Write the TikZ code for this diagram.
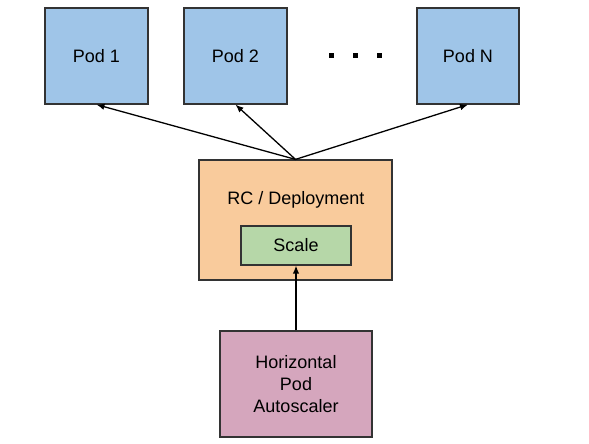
\documentclass[tikz,border=0pt]{standalone}
\usepackage{fontspec}
\setmainfont{Liberation Sans}
\usetikzlibrary{arrows.meta}
\definecolor{podblue}{HTML}{9FC5E8}
\definecolor{rcorange}{HTML}{F9CB9C}
\definecolor{scalegreen}{HTML}{B6D7A8}
\definecolor{hpapink}{HTML}{D5A6BD}
\definecolor{edgegray}{HTML}{333333}
\tikzset{
  box/.style={draw=edgegray, line width=1.2pt, inner sep=0pt, align=center,
    font=\fontsize{18}{22}\selectfont},
  podbox/.style={box, fill=podblue, minimum width=103pt, minimum height=96pt},
  dotsq/.style={fill=black, minimum size=5pt, inner sep=0pt},
  conn/.style={black, line width=1.3pt, -{Latex[length=8pt,width=6.5pt]}},
}
\begin{document}
\begin{tikzpicture}[x=1pt,y=-1pt]
\useasboundingbox (0,0) rectangle (589,444);
\node[podbox] (pod1) at (96.5,56) {Pod 1};
\node[podbox] (pod2) at (235.5,56) {Pod 2};
\node[podbox, minimum width=102pt] (podn) at (468,56) {Pod N};
\node[dotsq] (d1) at (331,56) {};
\node[dotsq] (d2) at (355,56) {};
\node[dotsq] (d3) at (379,56) {};
\node[box, fill=rcorange, minimum width=193pt, minimum height=120pt] (rc) at (295.5,220) {};
\node[font=\fontsize{18}{22}\selectfont, inner sep=0pt] (rclabel) at (296,200) {RC / Deployment};
\node[box, fill=scalegreen, minimum width=110pt, minimum height=39pt] (scale) at (296,245.5) {Scale};
\node[box, fill=hpapink, minimum width=152pt, minimum height=106pt] (hpa) at (296,384) {Horizontal\\Pod\\Autoscaler};
\draw[conn] (rc.north) -- (pod1.south);
\draw[conn] (rc.north) -- (pod2.south);
\draw[conn] (rc.north) -- (podn.south);
\draw[conn] (hpa.north) -- (scale.south);
\end{tikzpicture}
\end{document}
